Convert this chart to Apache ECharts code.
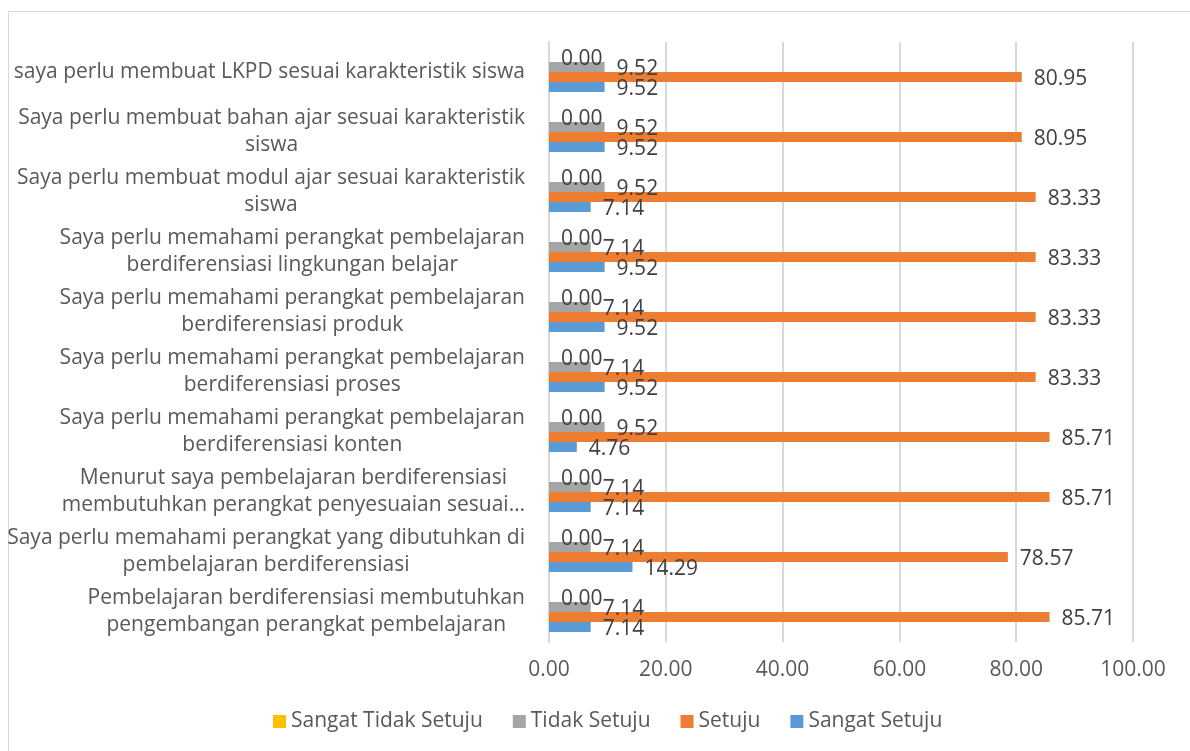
<!DOCTYPE html>
<html>
<head>
<meta charset="utf-8">
<script src="https://cdn.jsdelivr.net/npm/echarts@6/dist/echarts.min.js"></script>
<style>
  html, body { margin: 0; padding: 0; background: #fff; }
  .frame { position: absolute; left: 8px; top: 11px; width: 1200px; height: 800px; border: 1px solid #D9D9D9; }
  .chart-body { position: absolute; left: 0; top: 0; width: 1190px; height: 751px; }
</style>
</head>
<body>
<div class="frame"></div>
<div id="chart" class="chart-body"></div>
<script>
// categories from bottom to top
const categories = [
  "Pembelajaran berdiferensiasi membutuhkan\npengembangan perangkat pembelajaran",
  "Saya perlu memahami perangkat yang dibutuhkan di\npembelajaran berdiferensiasi",
  "Menurut saya pembelajaran berdiferensiasi\nmembutuhkan perangkat penyesuaian sesuai…",
  "Saya perlu memahami perangkat pembelajaran\nberdiferensiasi konten",
  "Saya perlu memahami perangkat pembelajaran\nberdiferensiasi proses",
  "Saya perlu memahami perangkat pembelajaran\nberdiferensiasi produk",
  "Saya perlu memahami perangkat pembelajaran\nberdiferensiasi lingkungan belajar",
  "Saya perlu membuat modul ajar sesuai karakteristik\nsiswa",
  "Saya perlu membuat bahan ajar sesuai karakteristik\nsiswa",
  "saya perlu membuat LKPD sesuai karakteristik siswa"
];
const sangatSetuju = [7.14, 14.29, 7.14, 4.76, 9.52, 9.52, 9.52, 7.14, 9.52, 9.52];
const setuju = [85.71, 78.57, 85.71, 85.71, 83.33, 83.33, 83.33, 83.33, 80.95, 80.95];
const tidakSetuju = [7.14, 7.14, 7.14, 9.52, 7.14, 7.14, 7.14, 9.52, 9.52, 9.52];
const sangatTidakSetuju = [0, 0, 0, 0, 0, 0, 0, 0, 0, 0];
const xTicks = { min: 0, max: 100, interval: 20 };

const FONT = "'Open Sans', sans-serif";
const FS = 21;

function makeSeries(name, data, color) {
  return {
    name: name,
    type: "bar",
    data: data,
    barWidth: 10,
    barGap: "0%",
    itemStyle: { color: color },
    label: {
      show: true,
      position: "right",
      distance: 12,
      offset: [0, 2],
      formatter: (p) => p.value.toFixed(2),
      color: "#404040",
      fontSize: FS,
      fontFamily: FONT
    }
  };
}

let myChart = echarts.init(document.getElementById("chart"));
let chartOption = {
  animation: false,
  grid: {
    left: 549,
    right: 57,
    top: 42,
    bottom: 109,
    containLabel: false,
    outerBoundsMode: "none"
  },
  legend: {
    data: ["Sangat Tidak Setuju", "Tidak Setuju", "Setuju", "Sangat Setuju"],
    top: 706,
    left: 268,
    icon: "rect",
    itemWidth: 13,
    itemHeight: 13,
    itemGap: 30,
    textStyle: { color: "#595959", fontSize: FS, fontFamily: FONT }
  },
  xAxis: {
    type: "value",
    min: xTicks.min,
    max: xTicks.max,
    interval: xTicks.interval,
    axisLine: { show: false },
    axisTick: { show: false },
    splitLine: { lineStyle: { color: "#D9D9D9", width: 2 } },
    axisLabel: {
      margin: 18,
      color: "#595959",
      fontSize: FS,
      fontFamily: FONT,
      formatter: (v) => v.toFixed(2)
    }
  },
  yAxis: {
    type: "category",
    data: categories,
    axisLine: { show: true, lineStyle: { color: "#D9D9D9", width: 2 } },
    axisTick: { show: false },
    axisLabel: {
      margin: 24,
      color: "#595959",
      fontSize: FS,
      fontFamily: FONT,
      lineHeight: 27,
      formatter: (v) => v.split("\n").map(l => "{c|" + l + "}").join("\n"),
      rich: {
        c: { align: "center", color: "#595959", fontSize: FS, fontFamily: FONT, lineHeight: 27 }
      }
    }
  },
  series: [
    makeSeries("Sangat Tidak Setuju", sangatTidakSetuju, "#FFC000"),
    makeSeries("Tidak Setuju", tidakSetuju, "#A5A5A5"),
    makeSeries("Setuju", setuju, "#ED7D31"),
    makeSeries("Sangat Setuju", sangatSetuju, "#5B9BD5")
  ]
};
myChart.setOption(chartOption);
</script>
</body>
</html>
